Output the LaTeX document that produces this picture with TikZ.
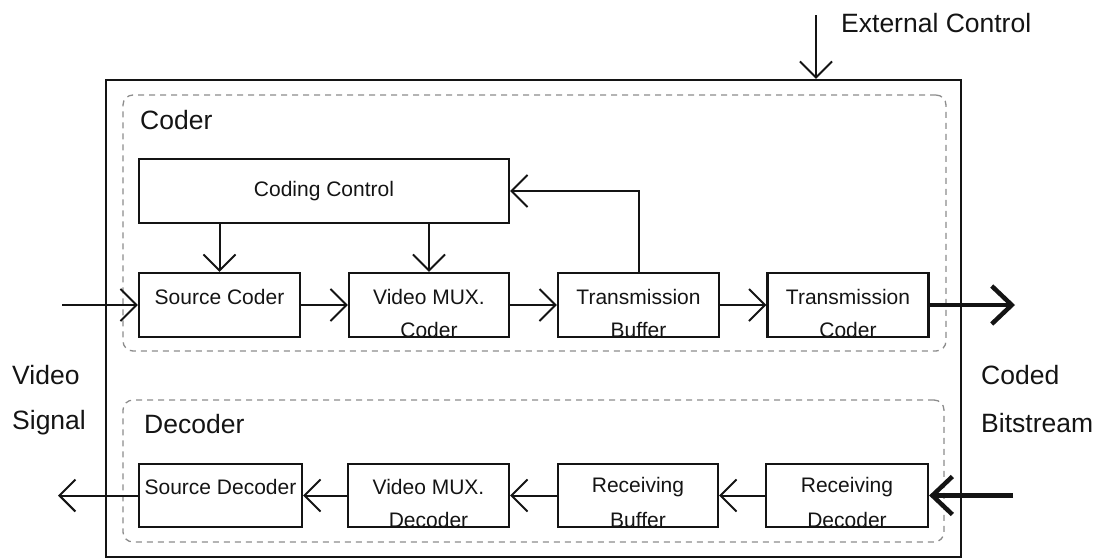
\documentclass[tikz,border=0pt]{standalone}
\usepackage{fontspec}
\setmainfont{Liberation Sans}
\usetikzlibrary{arrows.meta,calc}
\definecolor{ink}{HTML}{141414}
\definecolor{grpgray}{HTML}{8C8C8C}
\begin{document}
\begin{tikzpicture}[x=1pt,y=-1pt,
  box/.style={draw=ink,line width=2.2pt,rectangle,inner sep=0pt},
  grp/.style={draw=grpgray,dash pattern=on 6pt off 5pt,line width=1.3pt,rounded corners=10pt,rectangle,inner sep=0pt},
  frame/.style={draw=ink,line width=2.3pt,rectangle,inner sep=0pt},
  txt/.style={font=\fontsize{21}{25}\selectfont,text=ink,inner sep=0pt},
  lbl/.style={font=\fontsize{26.5}{30}\selectfont,text=ink,inner sep=0pt,anchor=west},
  arr/.style={draw=ink,line width=2pt,-{Straight Barb[length=16pt,width=32pt]}},
  bigarr/.style={draw=ink,line width=4.5pt,-{Straight Barb[length=20pt,width=38pt]}}
]
\useasboundingbox (0,0) rectangle (1103,558);

% groups and frame
\node[grp, minimum width=823pt, minimum height=256pt] (coderbox) at (534.5,223) {};
\node[grp, minimum width=821pt, minimum height=142pt] (decoderbox) at (533.5,471) {};
\node[frame, minimum width=855pt, minimum height=477pt] (outer) at (533.5,318.5) {};

% labels
\node[lbl] (coderlbl) at (140,120) {Coder};
\node[lbl] (decoderlbl) at (144,424) {Decoder};
\node[lbl] (video) at (12,375) {Video};
\node[lbl] (signal) at (12,423) {Signal};
\node[lbl] (coded) at (981,375) {Coded};
\node[lbl] (bitstream) at (981,423) {Bitstream};
\node[lbl] (extlbl) at (841,23) {External Control};

% coder boxes
\node[box, minimum width=370pt, minimum height=64pt] (cc) at (324,191) {};
\node[txt] (cct) at (cc.center) {Coding Control};

\node[box, minimum width=161pt, minimum height=64pt] (sc) at (219.5,305) {};
\node[box, minimum width=160pt, minimum height=64pt] (vm) at (429,305) {};
\node[box, minimum width=161pt, minimum height=64pt] (tb) at (638.5,305) {};
\node[box, minimum width=161pt, minimum height=64pt] (tc) at (848,305) {};

\node[txt] (sct) at ($(sc.north)+(0,25)$) {Source Coder};
\node[txt] (vmt) at ($(vm.north)+(0,25)$) {Video MUX.};
\node[txt] (tbt) at ($(tb.north)+(0,25)$) {Transmission};
\node[txt] (tct) at ($(tc.north)+(0,25)$) {Transmission};
\begin{scope}
  \clip (vm.south west) rectangle (vm.north east);
  \node[txt] (vmt2) at ($(vm.north)+(0,58)$) {Coder};
\end{scope}
\begin{scope}
  \clip (tb.south west) rectangle (tb.north east);
  \node[txt] (tbt2) at ($(tb.north)+(0,58)$) {Buffer};
\end{scope}
\begin{scope}
  \clip (tc.south west) rectangle (tc.north east);
  \node[txt] (tct2) at ($(tc.north)+(0,58)$) {Coder};
\end{scope}

% decoder boxes
\node[box, minimum width=163pt, minimum height=63pt] (sd) at (220.5,495.5) {};
\node[box, minimum width=161pt, minimum height=63pt] (vd) at (428.5,495.5) {};
\node[box, minimum width=160pt, minimum height=63pt] (rb) at (638,495.5) {};
\node[box, minimum width=162pt, minimum height=63pt] (rd) at (847,495.5) {};

\node[txt] (sdt) at ($(sd.north)+(0,24)$) {Source Decoder};
\node[txt] (vdt) at ($(vd.north)+(0,24)$) {Video MUX.};
\node[txt] (rbt) at ($(rb.north)+(0,24)$) {Receiving};
\node[txt] (rdt) at ($(rd.north)+(0,24)$) {Receiving};
\begin{scope}
  \clip (vd.south west) rectangle (vd.north east);
  \node[txt] (vdt2) at ($(vd.north)+(0,57)$) {Decoder};
\end{scope}
\begin{scope}
  \clip (rb.south west) rectangle (rb.north east);
  \node[txt] (rbt2) at ($(rb.north)+(0,57)$) {Buffer};
\end{scope}
\begin{scope}
  \clip (rd.south west) rectangle (rd.north east);
  \node[txt] (rdt2) at ($(rd.north)+(0,57)$) {Decoder};
\end{scope}

% external control
\coordinate (ext) at (816,15);
\draw[arr] (ext) -- (ext |- outer.north);

% coder connectors
\draw[arr] (sc.north |- cc.south) -- (sc.north);
\draw[arr] (vm.north |- cc.south) -- (vm.north);
\draw[arr] (tb.north) |- (cc.east);
\coordinate (vin) at (62,305);
\draw[arr] (vin) -- (sc.west);
\draw[arr] (sc.east) -- (vm.west);
\draw[arr] (vm.east) -- (tb.west);
\draw[arr] (tb.east) -- (tc.west);
\coordinate (bout) at (1015,305);
\draw[bigarr] (tc.east) -- (bout);

% decoder connectors
\coordinate (bin) at (1013,495.5);
\draw[bigarr] (bin) -- (rd.east);
\draw[arr] (rd.west) -- (rb.east);
\draw[arr] (rb.west) -- (vd.east);
\draw[arr] (vd.west) -- (sd.east);
\coordinate (vout) at (58,495.5);
\draw[arr] (sd.west) -- (vout);
\end{tikzpicture}
\end{document}
